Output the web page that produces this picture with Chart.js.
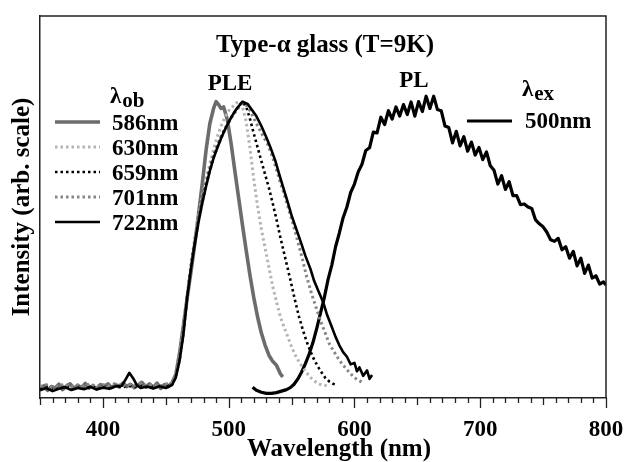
<!DOCTYPE html>
<html><head><meta charset="utf-8">
<script src="https://cdn.jsdelivr.net/npm/chart.js@4.4.0/dist/chart.umd.min.js"></script>
<style>html,body{margin:0;padding:0;background:#fff;}canvas{display:block;}</style>
</head><body>
<canvas id="c" width="624" height="462"></canvas>
<script>
// ---------- data (wavelength nm / intensity arb.) ----------
const xTickLabels = [400, 500, 600, 700, 800];
const seriesNames = ['586nm', '630nm', '659nm', '701nm', '722nm'];
const plName = '500nm';

const wl586 = [350,353,356,359,362,365,368,371,374,377,380,383,386,389,392,395,398,401,404,407,410,413,416,419,422,425,428,431,434,437,440,443,446,449,452,455,458,461,464,467,470,473,476,479,482,485,488,490,492,494,496,499,502,505,508,511,514,517,520,523,526,529,532,535,538,541,543];
const int586 = [0.024,0.032,0.020,0.030,0.026,0.036,0.022,0.031,0.037,0.025,0.033,0.027,0.038,0.026,0.032,0.024,0.035,0.029,0.037,0.027,0.035,0.029,0.039,0.030,0.036,0.027,0.034,0.041,0.029,0.037,0.027,0.039,0.025,0.035,0.030,0.040,0.062,0.118,0.190,0.262,0.330,0.402,0.480,0.560,0.648,0.718,0.758,0.776,0.768,0.758,0.762,0.728,0.665,0.592,0.522,0.452,0.385,0.320,0.262,0.212,0.170,0.138,0.112,0.096,0.086,0.064,0.055];

const wl630 = [350,355,360,365,370,375,380,385,390,395,400,405,410,415,420,425,430,435,440,445,450,455,458,461,464,467,470,473,476,479,482,485,488,491,494,497,500,503,506,508,511,514,517,520,523,526,529,532,535,538,541,544,547,550,553,556,559,562,565,568,571,574,578];
const int630 = [0.028,0.033,0.026,0.031,0.034,0.027,0.032,0.029,0.035,0.028,0.033,0.030,0.036,0.029,0.034,0.031,0.036,0.030,0.034,0.029,0.035,0.037,0.058,0.110,0.180,0.268,0.348,0.418,0.478,0.528,0.572,0.612,0.650,0.685,0.712,0.735,0.752,0.762,0.772,0.776,0.762,0.722,0.652,0.572,0.502,0.442,0.392,0.342,0.292,0.252,0.214,0.186,0.160,0.134,0.112,0.094,0.080,0.066,0.054,0.045,0.038,0.034,0.033];

const wl659 = [350,355,360,365,370,375,380,385,390,395,400,405,410,415,420,425,430,435,440,445,450,455,458,461,464,467,470,473,476,479,482,485,488,491,494,497,500,503,506,509,511,514,517,520,523,526,529,532,535,538,541,544,547,550,553,556,559,562,565,568,571,574,577,580,583,586];
const int659 = [0.026,0.030,0.024,0.029,0.032,0.025,0.030,0.027,0.033,0.026,0.031,0.028,0.034,0.027,0.032,0.029,0.033,0.028,0.032,0.027,0.033,0.035,0.055,0.100,0.170,0.268,0.345,0.410,0.468,0.518,0.562,0.600,0.635,0.660,0.685,0.705,0.724,0.740,0.755,0.768,0.775,0.762,0.730,0.692,0.656,0.620,0.585,0.550,0.510,0.468,0.422,0.380,0.338,0.296,0.252,0.212,0.178,0.148,0.122,0.100,0.082,0.066,0.052,0.043,0.037,0.034];

const wl701 = [350,355,360,365,370,375,380,385,390,395,400,405,410,415,420,425,430,435,440,445,450,455,458,461,464,467,470,473,476,479,482,485,488,491,494,497,500,503,506,509,511,514,517,520,524,528,531,535,538,541,544,547,551,554,558,562,566,570,573,577,580,583,587,590,594,598,602,607];
const int701 = [0.030,0.035,0.027,0.033,0.036,0.029,0.034,0.031,0.037,0.030,0.035,0.032,0.038,0.031,0.036,0.033,0.038,0.032,0.036,0.031,0.037,0.039,0.056,0.104,0.172,0.265,0.340,0.405,0.462,0.512,0.556,0.595,0.630,0.656,0.680,0.702,0.720,0.738,0.752,0.765,0.772,0.766,0.752,0.732,0.706,0.682,0.664,0.630,0.598,0.565,0.535,0.502,0.458,0.422,0.372,0.318,0.272,0.232,0.202,0.168,0.142,0.125,0.104,0.090,0.074,0.060,0.048,0.040];

const wl722 = [350,355,360,365,370,375,380,385,390,395,400,405,410,415,418,421,424,427,430,435,440,445,450,455,458,461,464,467,470,473,476,479,482,485,488,491,494,497,500,503,506,509,511,515,519,522,526,530,533,537,540,543,547,550,554,558,561,565,568,572,575,578,582,585,588,591,594,597,600,602,604,607,610,612,614];
const int722 = [0.020,0.026,0.018,0.024,0.028,0.021,0.026,0.023,0.029,0.022,0.027,0.024,0.030,0.032,0.048,0.066,0.052,0.034,0.026,0.030,0.025,0.031,0.026,0.034,0.054,0.098,0.166,0.262,0.338,0.402,0.460,0.510,0.554,0.594,0.628,0.655,0.680,0.702,0.722,0.740,0.756,0.768,0.776,0.770,0.752,0.738,0.712,0.682,0.658,0.622,0.588,0.555,0.512,0.478,0.440,0.402,0.372,0.338,0.306,0.275,0.252,0.220,0.186,0.160,0.138,0.120,0.108,0.088,0.092,0.070,0.080,0.058,0.072,0.050,0.060];

const wlPL = [519,522,526,530,534,538,542,546,549,552,555,558,561,564,567,570,573,576,579,582,585,588,591,594,597,600,603,606,609,612,615,618,621,624,627,630,633,636,639,642,645,648,651,654,657,660,663,666,669,672,675,678,681,684,687,690,693,696,699,702,705,708,711,714,717,720,723,726,729,732,735,738,741,744,747,750,753,756,759,762,765,768,771,774,777,780,783,786,789,792,795,798,800];
const intPL = [0.028,0.020,0.015,0.012,0.012,0.014,0.018,0.022,0.027,0.036,0.050,0.068,0.090,0.115,0.145,0.182,0.222,0.262,0.310,0.348,0.396,0.432,0.472,0.500,0.538,0.560,0.592,0.612,0.648,0.655,0.696,0.694,0.735,0.716,0.752,0.730,0.762,0.738,0.768,0.742,0.775,0.738,0.776,0.750,0.790,0.758,0.790,0.755,0.752,0.712,0.708,0.668,0.698,0.660,0.684,0.646,0.670,0.636,0.656,0.624,0.644,0.608,0.596,0.560,0.582,0.546,0.566,0.530,0.530,0.506,0.508,0.500,0.496,0.466,0.456,0.448,0.434,0.414,0.410,0.418,0.388,0.396,0.366,0.384,0.346,0.366,0.326,0.348,0.314,0.320,0.298,0.304,0.296];

// ---------- helpers ----------
const FONT = '"Liberation Serif", "Times New Roman", Times, serif';
function pts(xs, ys) {
  const n = Math.min(xs.length, ys.length);
  const out = [];
  for (let i = 0; i < n; i++) out.push({ x: xs[i], y: ys[i] });
  return out;
}
const dotted = [2.5, 3];

const datasets = [
  { label: seriesNames[4], data: pts(wl722, int722), borderColor: '#000000', borderWidth: 2.6 },
  { label: seriesNames[3], data: pts(wl701, int701), borderColor: '#858585', borderWidth: 3, borderDash: dotted },
  { label: seriesNames[2], data: pts(wl659, int659), borderColor: '#000000', borderWidth: 2.6, borderDash: dotted },
  { label: seriesNames[1], data: pts(wl630, int630), borderColor: '#b4b4b4', borderWidth: 3, borderDash: dotted },
  { label: seriesNames[0], data: pts(wl586, int586), borderColor: '#6c6c6c', borderWidth: 3.6 },
  { label: plName, data: pts(wlPL, intPL), borderColor: '#000000', borderWidth: 3.2 }
];
datasets.forEach(d => { d.pointRadius = 0; d.tension = 0; d.fill = false; d.borderJoinStyle = 'round'; d.borderCapStyle = 'butt'; });

const annot = {
  id: 'annot',
  afterDraw(chart) {
    const ctx = chart.ctx, a = chart.chartArea, xs = chart.scales.x;
    ctx.save();
    // frame top/right
    ctx.strokeStyle = '#222'; ctx.lineWidth = 1.5;
    ctx.beginPath();
    ctx.moveTo(a.left, a.top); ctx.lineTo(a.right, a.top); ctx.lineTo(a.right, a.bottom);
    ctx.stroke();
    // tick marks (outside, below axis)
    ctx.lineWidth = 1.3;
    for (let v = xs.min; v <= xs.max + 0.01; v += 10) {
      const px = Math.round(xs.getPixelForValue(v)) + 0.5;
      const len = (v % 100 === 0) ? 10 : (v % 50 === 0 ? 7 : 5);
      ctx.beginPath(); ctx.moveTo(px, a.bottom); ctx.lineTo(px, a.bottom + len); ctx.stroke();
    }
    ctx.fillStyle = '#000';
    ctx.textBaseline = 'alphabetic';
    // title
    ctx.font = 'bold 25px ' + FONT; ctx.textAlign = 'center';
    ctx.fillText('Type-\u03B1 glass (T=9K)', 325, 52);
    ctx.font = 'bold 23px ' + FONT;
    ctx.fillText('PLE', 230, 90);
    ctx.fillText('PL', 414, 87);
    // axis titles
    ctx.font = 'bold 25px ' + FONT;
    ctx.fillText('Wavelength (nm)', 339, 456);
    ctx.save();
    ctx.translate(23, 207); ctx.rotate(-Math.PI / 2);
    ctx.textBaseline = 'middle';
    ctx.fillText('Intensity (arb. scale)', 0, 0);
    ctx.restore();
    // lambda headers
    ctx.textAlign = 'left';
    function lam(x, y, sub) {
      ctx.font = 'bold 23px ' + FONT;
      ctx.fillText('\u03BB', x, y);
      const w = ctx.measureText('\u03BB').width;
      ctx.font = 'bold 21px ' + FONT;
      ctx.fillText(sub, x + w + 1, y + 4);
    }
    lam(110, 103, 'ob');
    lam(522, 96, 'ex');
    // legend rows
    const order = [4, 3, 2, 1, 0]; // dataset indexes for 586..722
    const lineY = [122, 147, 172, 197, 222];
    const textY = [130, 155, 180, 205, 230];
    ctx.font = 'bold 23px ' + FONT;
    function sample(ds, x1, x2, y) {
      ctx.save();
      ctx.strokeStyle = ds.borderColor; ctx.lineWidth = ds.borderWidth;
      ctx.setLineDash(ds.borderDash || []);
      ctx.beginPath(); ctx.moveTo(x1, y); ctx.lineTo(x2, y); ctx.stroke();
      ctx.restore();
    }
    order.forEach((di, i) => {
      const ds = chart.data.datasets[di];
      sample(ds, 55, 100, lineY[i]);
      ctx.fillText(ds.label, 112, textY[i]);
    });
    const pl = chart.data.datasets[5];
    sample(pl, 467, 512, 121);
    ctx.fillText(pl.label, 525, 128);
    ctx.restore();
  }
};

new Chart(document.getElementById('c'), {
  type: 'line',
  data: { datasets },
  plugins: [annot],
  options: {
    responsive: false, animation: false, devicePixelRatio: 1,
    layout: { padding: { left: 40, right: 0, top: 16, bottom: 0 } },
    plugins: { legend: { display: false }, tooltip: { enabled: false }, title: { display: false } },
    scales: {
      x: {
        type: 'linear', min: 350, max: 800,
        afterFit: s => { s.height = 64; s.paddingLeft = 0; s.paddingRight = 18; },
        afterBuildTicks: s => { s.ticks = []; for (let v = 350; v <= 800; v += 10) s.ticks.push({ value: v }); },
        ticks: {
          autoSkip: false, maxRotation: 0, minRotation: 0, padding: 18, color: '#000',
          font: { family: FONT, size: 23, weight: 'bold' },
          callback: v => (xTickLabels.includes(v) ? String(v) : '')
        },
        grid: { display: true, drawOnChartArea: false, drawTicks: false },
        border: { display: true, color: '#222', width: 1.5 }
      },
      y: {
        min: 0, max: 1,
        afterFit: s => { s.width = 0; },
        ticks: { display: false },
        grid: { display: false },
        border: { display: true, color: '#222', width: 1.5 }
      }
    }
  }
});
</script>
</body></html>
